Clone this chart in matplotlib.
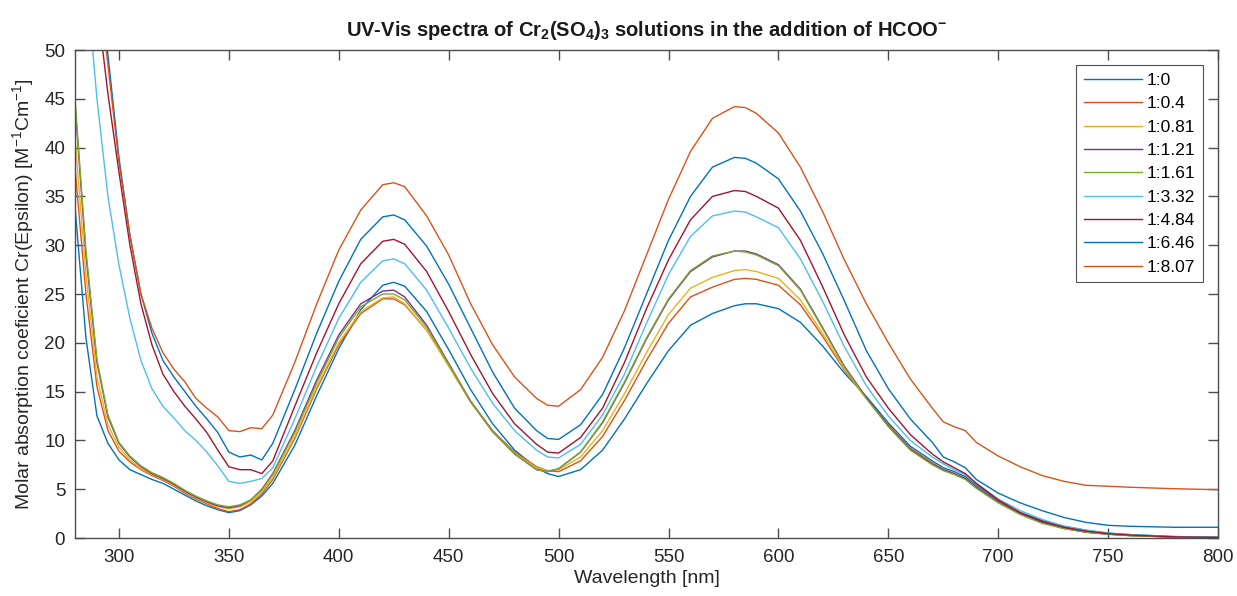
import numpy as np
import matplotlib
matplotlib.use('Agg')
import matplotlib.pyplot as plt

plt.rcParams['font.family'] = ['Liberation Sans', 'DejaVu Sans']
plt.rcParams['mathtext.fontset'] = 'custom'
plt.rcParams['mathtext.rm'] = 'Liberation Sans'
plt.rcParams['mathtext.bf'] = 'Liberation Sans:bold'

# Longueurs d'onde (nm)
wavelength = [280, 285, 290, 295, 300, 305, 310, 315, 320, 325, 330, 335, 340, 345,
              350, 355, 360, 365, 370, 380, 390, 400, 410, 420, 425, 430, 440, 450,
              460, 470, 480, 490, 495, 500, 510, 520, 530, 540, 550, 560, 570, 580,
              585, 590, 600, 610, 620, 630, 640, 650, 660, 670, 675, 680, 685, 690,
              700, 710, 720, 730, 740, 750, 760, 780, 800]

labels = ['1:0', '1:0.4', '1:0.81', '1:1.21', '1:1.61', '1:3.32', '1:4.84', '1:6.46', '1:8.07']

eps_1_0 = [34, 20.5, 12.5, 9.7, 8.0, 7.0, 6.5, 6.0, 5.6, 5.0, 4.4, 3.8, 3.3, 2.9,
           2.6, 2.8, 3.4, 4.3, 5.6, 9.5, 14.6, 19.4, 23.4, 25.9, 26.2, 25.8, 23.2, 19.3,
           15.2, 11.7, 9.0, 7.2, 6.6, 6.3, 7.0, 9.0, 12.2, 15.8, 19.2, 21.8, 23.0, 23.8,
           24.0, 24.0, 23.5, 22.1, 19.7, 16.9, 14.5, 11.8, 9.4, 7.9, 7.2, 6.8, 6.3, 5.4,
           3.8, 2.6, 1.8, 1.2, 0.8, 0.5, 0.35, 0.15, 0.08]

eps_1_04 = [38, 25, 15.5, 11, 8.9, 7.8, 7.0, 6.4, 5.9, 5.3, 4.6, 4.0, 3.5, 3.0,
            2.7, 2.9, 3.5, 4.5, 6.0, 10.2, 15.3, 19.8, 23.0, 24.5, 24.5, 23.9, 21.3, 17.7,
            14.0, 11.0, 8.8, 7.3, 6.9, 6.8, 7.9, 10.4, 14.1, 18.2, 22.0, 24.7, 25.7, 26.5,
            26.6, 26.5, 25.9, 23.9, 20.7, 17.2, 14.3, 11.6, 9.2, 7.7, 7.0, 6.6, 6.1, 5.2,
            3.7, 2.5, 1.6, 1.0, 0.6, 0.4, 0.25, 0.1, 0.05]

eps_1_081 = [41, 27, 16.5, 11.6, 9.3, 8.0, 7.1, 6.5, 6.0, 5.4, 4.7, 4.1, 3.6, 3.2,
             3.0, 3.2, 3.7, 4.7, 6.2, 10.4, 15.5, 20.0, 23.2, 24.6, 24.7, 24.0, 21.3, 17.6,
             13.9, 10.9, 8.7, 7.2, 6.9, 7.0, 8.3, 11.0, 14.8, 19.0, 22.9, 25.6, 26.7, 27.4,
             27.5, 27.3, 26.6, 24.4, 21.0, 17.3, 14.3, 11.5, 9.1, 7.6, 7.0, 6.6, 6.1, 5.2,
             3.7, 2.5, 1.6, 1.0, 0.6, 0.4, 0.25, 0.1, 0.05]

eps_1_121 = [44.5, 29, 18, 12.4, 9.7, 8.3, 7.3, 6.6, 6.1, 5.5, 4.8, 4.2, 3.7, 3.3,
             3.1, 3.3, 3.9, 5.0, 6.6, 11.0, 16.2, 20.8, 24.0, 25.3, 25.4, 24.7, 21.8, 17.9,
             14.0, 10.9, 8.6, 7.0, 6.8, 7.1, 8.8, 11.8, 15.9, 20.4, 24.4, 27.3, 28.8, 29.4,
             29.4, 29.1, 28.0, 25.5, 21.6, 17.6, 14.4, 11.5, 9.1, 7.6, 7.0, 6.6, 6.1, 5.2,
             3.7, 2.5, 1.6, 1.0, 0.6, 0.4, 0.25, 0.1, 0.05]

eps_1_161 = [45, 29.5, 18.3, 12.6, 9.8, 8.4, 7.4, 6.7, 6.2, 5.6, 4.9, 4.3, 3.8, 3.4,
             3.2, 3.4, 3.9, 4.9, 6.5, 10.8, 15.9, 20.5, 23.7, 25.0, 25.0, 24.4, 21.6, 17.8,
             14.0, 10.9, 8.6, 7.0, 6.8, 7.1, 8.8, 11.9, 16.0, 20.5, 24.5, 27.4, 28.9, 29.4,
             29.3, 29.0, 27.9, 25.4, 21.5, 17.5, 14.3, 11.4, 9.0, 7.5, 6.9, 6.5, 6.0, 5.1,
             3.6, 2.4, 1.5, 0.95, 0.6, 0.38, 0.25, 0.1, 0.05]

eps_1_332 = [75, 58, 45, 35, 28, 22.5, 18.2, 15.3, 13.5, 12.3, 11.0, 10.0, 8.8, 7.4,
             5.8, 5.6, 5.8, 6.1, 7.2, 12.2, 17.6, 22.5, 26.2, 28.4, 28.6, 28.1, 25.4, 21.5,
             17.4, 13.8, 11.0, 9.0, 8.3, 8.2, 9.6, 12.6, 16.8, 22.0, 27.0, 30.9, 33.0, 33.5,
             33.4, 32.9, 31.8, 28.6, 24.3, 19.6, 15.6, 12.5, 10.0, 8.3, 7.6, 7.0, 6.5, 5.6,
             4.0, 2.8, 1.9, 1.2, 0.8, 0.5, 0.35, 0.15, 0.08]

eps_1_484 = [85, 67, 55, 45.5, 37.5, 30, 24, 19.8, 16.8, 15, 13.5, 12.2, 10.8, 9.0,
             7.3, 7.0, 7.0, 6.6, 7.9, 13.5, 19.0, 24.0, 28.1, 30.4, 30.6, 30.1, 27.3, 23.2,
             18.8, 14.8, 11.7, 9.6, 8.8, 8.7, 10.3, 13.3, 18.0, 23.5, 28.5, 32.6, 35.0, 35.6,
             35.5, 35.0, 33.8, 30.5, 25.8, 20.8, 16.5, 13.3, 10.6, 8.6, 7.8, 7.2, 6.6, 5.6,
             3.9, 2.6, 1.7, 1.1, 0.7, 0.45, 0.3, 0.12, 0.06]

eps_1_646 = [88, 72, 60, 49.5, 39, 31, 25, 21, 18.2, 16.5, 15.0, 13.5, 12.2, 10.8,
             8.8, 8.3, 8.5, 8.0, 9.7, 15.2, 21.0, 26.3, 30.6, 32.9, 33.1, 32.6, 29.9, 26.0,
             21.5, 17.0, 13.3, 11.0, 10.2, 10.1, 11.6, 14.7, 19.5, 25.0, 30.5, 35.0, 38.0, 39.0,
             38.9, 38.4, 36.8, 33.5, 29.2, 24.3, 19.2, 15.3, 12.2, 9.8, 8.3, 7.8, 7.2, 6.0,
             4.6, 3.6, 2.8, 2.1, 1.6, 1.3, 1.2, 1.1, 1.1]

eps_1_807 = [87, 70, 58, 48.5, 38.5, 31, 25, 21.5, 19.0, 17.3, 16.0, 14.3, 13.3, 12.4,
             11.0, 10.9, 11.3, 11.2, 12.6, 18.0, 24.0, 29.5, 33.6, 36.2, 36.4, 36.0, 33.0, 29.0,
             24.0, 19.8, 16.5, 14.3, 13.6, 13.5, 15.2, 18.5, 23.3, 29.0, 34.7, 39.6, 43.0, 44.2,
             44.1, 43.5, 41.5, 38.0, 33.5, 28.5, 24.0, 20.0, 16.3, 13.3, 11.9, 11.4, 11.0, 9.8,
             8.4, 7.3, 6.4, 5.8, 5.4, 5.3, 5.2, 5.05, 4.95]

series = [eps_1_0, eps_1_04, eps_1_081, eps_1_121, eps_1_161,
          eps_1_332, eps_1_484, eps_1_646, eps_1_807]

# Couleurs par défaut de MATLAB
colors = ['#0072BD', '#D95319', '#EDB120', '#7E2F8E', '#77AC30',
          '#4DBEEE', '#A2142F', '#0072BD', '#D95319']

fig = plt.figure(figsize=(12.37, 5.96), dpi=100)
ax = fig.add_axes([0.0606, 0.0973, 0.9241, 0.8188])

for y, c, lab in zip(series, colors, labels):
    ax.plot(wavelength, y, color=c, linewidth=1.0, label=lab)

ax.set_xlim(280, 800)
ax.set_ylim(0, 50)
ax.set_xticks(np.arange(300, 801, 50))
ax.set_yticks(np.arange(0, 51, 5))

axis_col = '#4d4d4d'
for sp in ax.spines.values():
    sp.set_color(axis_col)
    sp.set_linewidth(1.0)
ax.tick_params(direction='in', top=True, right=True, length=7, width=1.0,
               colors=axis_col, labelcolor='#262626', labelsize=13.5)
ax.tick_params(axis='x', pad=8)
ax.tick_params(axis='y', pad=7)

ax.set_xlabel('Wavelength [nm]', fontsize=14, color='#262626', labelpad=3)
ax.set_ylabel('Molar absorption coeficient Cr(Epsilon) [M$^{-1}$Cm$^{-1}$]',
              fontsize=14, color='#262626', labelpad=5)
ax.set_title('UV-Vis spectra of Cr$_\\mathbf{2}$(SO$_\\mathbf{4}$)$_\\mathbf{3}$ solutions in the addition of HCOO$^\\mathbf{-}$',
             fontsize=14.5, fontweight='bold', color='#1a1a1a', pad=10)

leg = ax.legend(loc='upper right', bbox_to_anchor=(0.987, 0.969), borderaxespad=0,
                fontsize=12.5, frameon=True, fancybox=False, handlelength=3.3,
                handletextpad=0.3, labelspacing=0.47, borderpad=0.45)
leg.get_frame().set_edgecolor('#262626')
leg.get_frame().set_linewidth(0.8)

plt.savefig('out.png', dpi=100)
